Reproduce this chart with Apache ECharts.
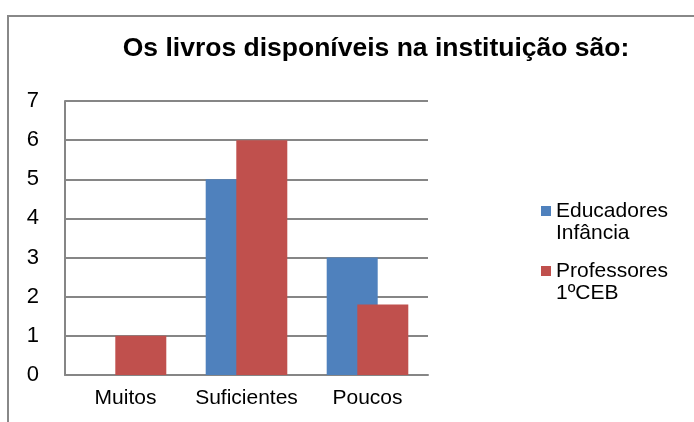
<!DOCTYPE html>
<html>
<head>
<meta charset="utf-8">
<script src="https://cdn.jsdelivr.net/npm/echarts@6/dist/echarts.min.js"></script>
<style>
html,body{margin:0;padding:0;background:#fff}
#chart{width:694px;height:422px}
</style>
</head>
<body>
<div id="chart"></div>
<script>
// dados
const categories = ['Muitos', 'Suficientes', 'Poucos']
const seriesNames = ['Educadores\nInfância', 'Professores\n1ºCEB']
const educadores = [0, 5, 3]
const professores = [1, 6, 1.8]
const yTicks = [0, 7, 1] // min, max, interval

const fontFamily = 'Liberation Sans, Arial, sans-serif'
const chart = echarts.init(document.getElementById('chart'))

const option = {
  animation: false,
  backgroundColor: '#fff',
  title: {
    text: 'Os livros disponíveis na instituição são:',
    left: 371,
    top: 30,
    textAlign: 'center',
    textStyle: { fontFamily, fontSize: 26.5, fontWeight: 'bold', color: '#000' }
  },
  legend: {
    orient: 'vertical',
    left: 536,
    top: 173,
    itemWidth: 10,
    itemHeight: 10,
    itemGap: -6,
    icon: 'rect',
    data: seriesNames,
    // linha vazia no início para o ícone ficar na altura da 1ª linha
    formatter: name => ' \n' + name,
    textStyle: { fontFamily, fontSize: 21, color: '#000', lineHeight: 22 }
  },
  grid: { left: 65, right: 266, top: 101, bottom: 47 },
  xAxis: {
    type: 'category',
    data: categories,
    axisLine: { lineStyle: { color: '#868686', width: 2 } },
    axisTick: { show: false },
    axisLabel: { interval: 0, fontFamily, fontSize: 21, color: '#000', margin: 13 }
  },
  yAxis: {
    type: 'value',
    min: yTicks[0],
    max: yTicks[1],
    interval: yTicks[2],
    axisLine: { show: true, lineStyle: { color: '#868686', width: 2 } },
    axisTick: { show: false },
    axisLabel: { fontFamily, fontSize: 22, color: '#000', margin: 26 },
    splitLine: { lineStyle: { color: '#868686', width: 2 } }
  },
  series: [
    {
      name: seriesNames[0],
      type: 'bar',
      data: educadores,
      barWidth: 51,
      barGap: '-40%',
      itemStyle: { color: '#4F81BD' }
    },
    {
      name: seriesNames[1],
      type: 'bar',
      data: professores,
      barWidth: 51,
      itemStyle: { color: '#C0504D' }
    }
  ],
  graphic: [
    // moldura (só topo e lado esquerdo visíveis)
    { type: 'polyline', shape: { points: [[8, 422], [8, 16], [694, 16]] },
      style: { stroke: '#888', lineWidth: 2, fill: null } }
  ]
}
chart.setOption(option)
</script>
</body>
</html>
